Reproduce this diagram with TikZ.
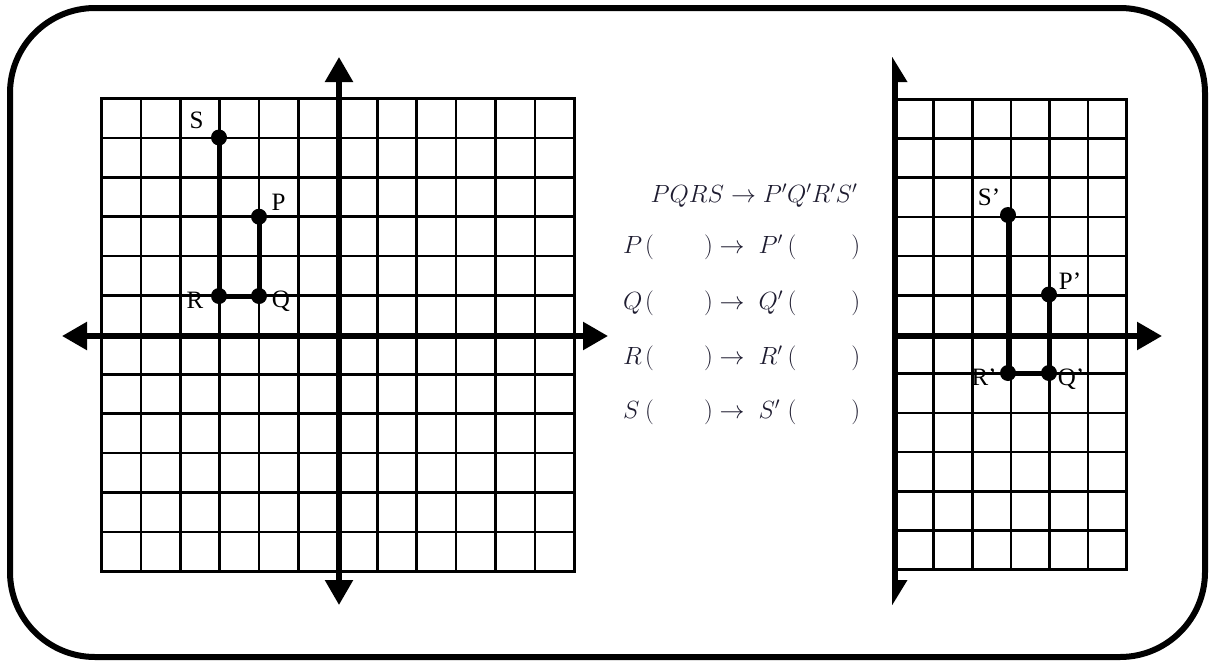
\documentclass[tikz,border=0pt]{standalone}
\usepackage{fontspec}
\setmainfont{Liberation Serif}
\usetikzlibrary{arrows.meta}
\definecolor{txt}{RGB}{30,28,48}
\newcommand\mymapline[1]{$\makebox[22pt][l]{$#1$}(\hspace{50pt})\to\hspace{7pt}\makebox[29pt][l]{$#1'$}(\hspace{55pt})$}
\begin{document}
\begin{tikzpicture}[x=1pt,y=-1pt,
 gridline/.style={line width=2.6pt, line cap=rect},
 axisline/.style={line width=5.5pt},
 bothtips/.style={{Triangle[length=25pt,width=27pt]}-{Triangle[length=25pt,width=27pt]}},
 endtip/.style={-{Triangle[length=25pt,width=27pt]}},
 dot/.style={circle, fill=black, minimum size=16pt, inner sep=0pt},
 seg/.style={line width=5pt},
 lbl/.style={font=\fontsize{25}{25}\selectfont, inner sep=0pt},
 eq/.style={font=\fontsize{27}{27}\selectfont, text=txt, inner sep=0pt},
 frame/.style={line width=6pt, rounded corners=85pt}]
\useasboundingbox (0,0) rectangle (1215,664);
\draw[frame] (10,8) rectangle (1205,657);

% ---------- left grid ----------
\foreach \i in {0,...,12} {
  \draw[gridline] ({101.5+\i*39.4},98.5) -- ({101.5+\i*39.4},571.3);
  \draw[gridline] (101.5,{98.5+\i*39.4}) -- (574.3,{98.5+\i*39.4});
}
\coordinate (ly1) at (339,57);
\coordinate (ly2) at (339,605);
\coordinate (lx1) at (62,336);
\coordinate (lx2) at (608,336);
\draw[axisline,bothtips] (ly1) -- (ly2);
\draw[axisline,bothtips] (lx1) -- (lx2);

\node[dot] (S) at (219,137.5) {};
\node[dot] (P) at (259,216.7) {};
\node[dot] (R) at (219,296) {};
\node[dot] (Q) at (259,296) {};
\draw[seg] (S.center) -- (R.center) -- (Q.center) -- (P.center);
\node[lbl] (lS) at (196.5,120) {S};
\node[lbl] (lP) at (278.5,202) {P};
\node[lbl] (lR) at (195,300) {R};
\node[lbl] (lQ) at (281,301) {Q};

% ---------- right grid ----------
\foreach \i in {0,...,6} {
  \draw[gridline] ({895+\i*38.6},99.3) -- ({895+\i*38.6},569.7);
}
\foreach \j in {0,...,12} {
  \draw[gridline] (895,{99.3+\j*39.2}) -- (1126.6,{99.3+\j*39.2});
}
\coordinate (ry1) at (895,82);
\coordinate (ry2) at (895,580);
\coordinate (rx1) at (895,336);
\coordinate (rx2) at (1162,336);
\draw[axisline] (ry1) -- (ry2);
\fill (892.2,57) -- (907.5,82) -- (892.2,82) -- cycle;
\fill (892.2,605) -- (907.5,580) -- (892.2,580) -- cycle;
\draw[axisline,endtip] (rx1) -- (rx2);

\node[dot] (S2) at (1008,215) {};
\node[dot] (P2) at (1049,294.5) {};
\node[dot] (R2) at (1008,373) {};
\node[dot] (Q2) at (1049,373) {};
\draw[seg] (S2.center) -- (R2.center) -- (Q2.center) -- (P2.center);
\node[lbl] (lS2) at (989,197) {S’};
\node[lbl] (lP2) at (1070,281) {P’};
\node[lbl] (lR2) at (984,377) {R’};
\node[lbl] (lQ2) at (1071,379) {Q’};

% ---------- middle text ----------
\node[eq] (t0) at (754,196) {$PQRS\to P'Q'R'S'$};
\node[eq,anchor=west] (t1) at (623,247) {\mymapline{P}};
\node[eq,anchor=west] (t2) at (623,303) {\mymapline{Q}};
\node[eq,anchor=west] (t3) at (623,358) {\mymapline{R}};
\node[eq,anchor=west] (t4) at (623,412) {\mymapline{S}};
\end{tikzpicture}
\end{document}
